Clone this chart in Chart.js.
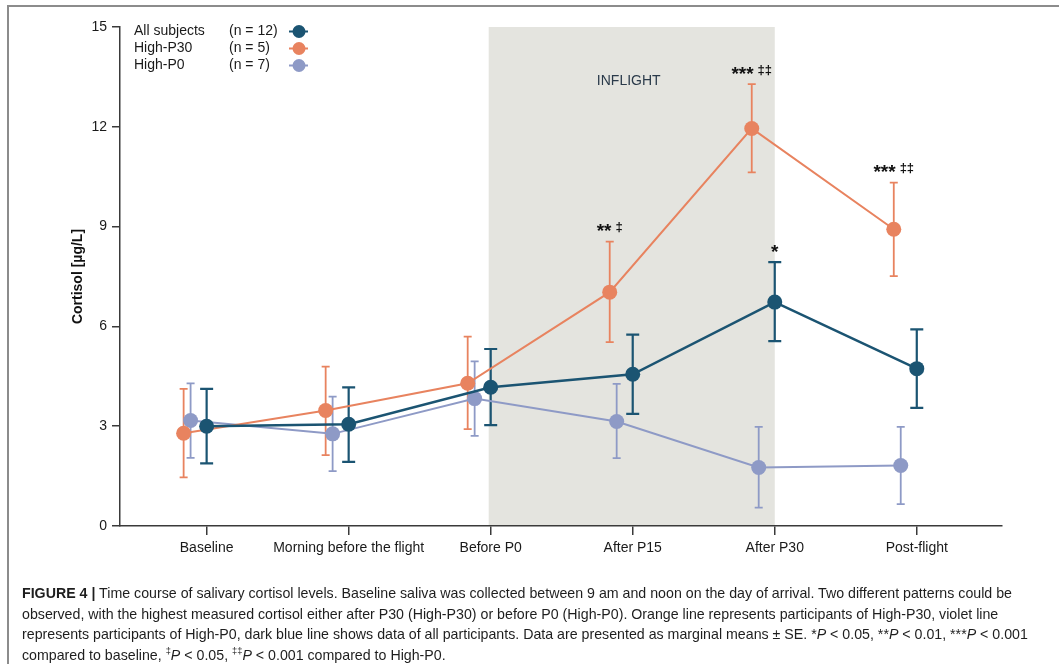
<!DOCTYPE html>
<html>
<head>
<meta charset="utf-8">
<script src="https://cdn.jsdelivr.net/npm/chart.js@4.4.1/dist/chart.umd.min.js"></script>
<style>
  html, body { margin: 0; padding: 0; background: #fff; }
  #wrap { position: relative; width: 1059px; height: 664px; overflow: hidden; }
  #frame { position: absolute; left: 7px; top: 5px; width: 1100px; height: 700px;
           border-left: 2px solid #8c8c8c; border-top: 2px solid #8c8c8c; }
  #caption { position: absolute; left: 22px; top: 583px; font: 14.5px "Liberation Sans", Arial, sans-serif;
             color: #1e1e1e; line-height: 20.5px; }
  #caption .cl { white-space: nowrap; transform-origin: 0 50%; display: inline-block; }
  #caption sup { font-size: 9.5px; line-height: 0; }
</style>
</head>
<body>
<div id="wrap">
  <div id="frame"></div>
  <canvas id="myChart" width="1059" height="664" style="position:absolute;left:0;top:0"></canvas>
  <div id="caption">
    <div class="cl"><b>FIGURE 4</b> <b>|</b> Time course of salivary cortisol levels. Baseline saliva was collected between 9 am and noon on the day of arrival. Two different patterns could be</div><br>
    <div class="cl">observed, with the highest measured cortisol either after P30 (High-P30) or before P0 (High-P0). Orange line represents participants of High-P30, violet line</div><br>
    <div class="cl">represents participants of High-P0, dark blue line shows data of all participants. Data are presented as marginal means ± SE. *<i>P</i> &lt; 0.05, **<i>P</i> &lt; 0.01, ***<i>P</i> &lt; 0.001</div><br>
    <div class="cl">compared to baseline, <sup>‡</sup><i>P</i> &lt; 0.05, <sup>‡‡</sup><i>P</i> &lt; 0.001 compared to High-P0.</div>
  </div>
</div>
<script>
/* Salivary cortisol time course */

const categories = ['Baseline', 'Morning before the flight', 'Before P0', 'After P15', 'After P30', 'Post-flight'];

// All subjects (n = 12)
const allMean = [3.0, 3.06, 4.17, 4.56, 6.73, 4.73];
const allLow  = [1.88, 1.93, 3.03, 3.37, 5.56, 3.55];
const allHigh = [4.12, 4.17, 5.32, 5.75, 7.93, 5.91];

// High-P30 (n = 5)
const p30Mean = [2.79, 3.47, 4.29, 7.03, 11.95, 8.92];
const p30Low  = [1.46, 2.13, 2.91, 5.53, 10.63, 7.51];
const p30High = [4.12, 4.79, 5.69, 8.55, 13.28, 10.32];

// High-P0 (n = 7)
const p0Mean = [3.17, 2.77, 3.83, 3.14, 1.76, 1.82];
const p0Low  = [2.05, 1.65, 2.71, 2.04, 0.55, 0.66];
const p0High = [4.29, 3.89, 4.95, 4.27, 2.98, 2.98];

const yTicks = [0, 3, 6, 9, 12, 15];
const inflightFrom = 2;   // Before P0
const inflightTo = 4;     // After P30

// significance marks: [series, category index, stars, daggers]
const marks = [
  ['p30', 3, '**', '‡'],
  ['p30', 4, '***', '‡‡'],
  ['p30', 5, '***', '‡‡'],
  ['all', 4, '*', ''],
];

const BLUE = '#1b5472';
const ORANGE = '#e8835f';
const VIOLET = '#8e9ac6';
const FONT = '"Liberation Sans", Arial, Helvetica, sans-serif';

const series = {
  all: { label: 'All subjects', n: '(n = 12)', mean: allMean, low: allLow, high: allHigh, color: BLUE, shift: 0, cap: 6.5, lw: 2.2 },
  p30: { label: 'High-P30', n: '(n = 5)', mean: p30Mean, low: p30Low, high: p30High, color: ORANGE, shift: -0.162, cap: 4, lw: 1.8 },
  p0:  { label: 'High-P0', n: '(n = 7)', mean: p0Mean, low: p0Low, high: p0High, color: VIOLET, shift: -0.113, cap: 4, lw: 1.8 },
};
const order = ['all', 'p30', 'p0'];

function pts(s) {
  return s.mean.map((v, i) => ({ x: i + s.shift, y: v }));
}

const overlay = {
  id: 'overlay',
  beforeDraw(chart) {
    const { ctx, scales: { x, y } } = chart;
    const x0 = x.getPixelForValue(inflightFrom) - 2, x1 = x.getPixelForValue(inflightTo);
    const yt = y.getPixelForValue(15), yb = y.getPixelForValue(0);
    ctx.save();
    ctx.fillStyle = '#e4e4df';
    ctx.fillRect(x0, yt, x1 - x0, yb - yt);
    ctx.fillStyle = '#2a3a4a';
    ctx.font = '14px ' + FONT;
    ctx.textAlign = 'center';
    ctx.textBaseline = 'middle';
    ctx.fillText('INFLIGHT', (x0 + x1) / 2 - 3, yt + 54);
    ctx.restore();
  },
  beforeDatasetsDraw(chart) {
    const { ctx, scales: { x, y } } = chart;
    ctx.save();
    order.slice().reverse().forEach(k => {
      const s = series[k];
      ctx.strokeStyle = s.color;
      ctx.lineWidth = s.lw;
      s.mean.forEach((v, i) => {
        const px = x.getPixelForValue(i + s.shift);
        const yl = y.getPixelForValue(s.low[i]), yh = y.getPixelForValue(s.high[i]);
        ctx.beginPath();
        ctx.moveTo(px, yl); ctx.lineTo(px, yh);
        ctx.moveTo(px - s.cap, yl); ctx.lineTo(px + s.cap, yl);
        ctx.moveTo(px - s.cap, yh); ctx.lineTo(px + s.cap, yh);
        ctx.stroke();
      });
    });
    ctx.restore();
  },
  afterDatasetsDraw(chart) {
    const { ctx, chartArea, scales: { x, y } } = chart;
    ctx.save();
    // significance marks
    ctx.fillStyle = '#111';
    marks.forEach(([k, i, stars, dag]) => {
      const s = series[k];
      const px = x.getPixelForValue(i + s.shift);
      const cy = y.getPixelForValue(s.high[i]) - 15;
      ctx.font = 'bold 19px ' + FONT;
      const wa = ctx.measureText(stars).width;
      ctx.font = 'bold 13px ' + FONT;
      const wd = dag ? ctx.measureText(dag).width : 0;
      const gap = dag ? 4 : 0;
      const left = px - (wa + gap + wd) / 2;
      ctx.textAlign = 'left';
      ctx.textBaseline = 'alphabetic';
      ctx.font = 'bold 19px ' + FONT;
      ctx.fillText(stars, left, cy + 10.5);
      if (dag) {
        ctx.font = 'bold 13px ' + FONT;
        ctx.fillText(dag, left + wa + gap, cy + 4.5);
      }
    });
    // legend
    ctx.font = '14px ' + FONT;
    ctx.textBaseline = 'middle';
    order.forEach((k, r) => {
      const s = series[k];
      const ly = chartArea.top + 4.5 + r * 17;
      const lx = chartArea.left + 14;
      ctx.fillStyle = '#1a1a1a';
      ctx.textAlign = 'left';
      ctx.fillText(s.label, lx, ly);
      ctx.fillText(s.n, lx + 95, ly);
      ctx.strokeStyle = s.color;
      ctx.lineWidth = 2;
      ctx.beginPath();
      ctx.moveTo(lx + 155, ly); ctx.lineTo(lx + 174, ly);
      ctx.stroke();
      ctx.fillStyle = s.color;
      ctx.beginPath();
      ctx.arc(lx + 165, ly, 6.5, 0, Math.PI * 2);
      ctx.fill();
    });
    // y axis title
    ctx.fillStyle = '#111';
    ctx.font = 'bold 14px ' + FONT;
    ctx.textAlign = 'center';
    ctx.translate(chartArea.left - 42, (chartArea.top + chartArea.bottom) / 2);
    ctx.rotate(-Math.PI / 2);
    ctx.fillText('Cortisol [µg/L]', 0, 0);
    ctx.restore();
  }
};

function init() {
  const datasets = order.map(k => {
    const s = series[k];
    return {
      label: s.label,
      data: pts(s),
      borderColor: s.color,
      backgroundColor: s.color,
      borderWidth: k === 'all' ? 2.5 : 2,
      pointRadius: 7.5,
      pointBorderWidth: 0,
      pointHoverRadius: 7.5,
      tension: 0,
    };
  });

  new Chart(document.getElementById('myChart'), {
    type: 'line',
    data: { datasets: datasets },
    options: {
      responsive: false,
      animation: false,
      layout: { padding: { left: 0, right: 57, top: 27, bottom: 0 } },
      plugins: { legend: { display: false }, tooltip: { enabled: false } },
      scales: {
        x: {
          type: 'linear',
          min: -0.61,
          max: 5.6,
          afterBuildTicks: scale => { scale.ticks = categories.map((c, i) => ({ value: i })); },
          afterFit: scale => { scale.height = 138; },
          ticks: {
            callback: v => categories[v],
            color: '#1a1a1a',
            font: { size: 14, family: FONT },
            padding: 5,
            maxRotation: 0,
            autoSkip: false,
          },
          grid: { drawOnChartArea: false, drawTicks: true, tickLength: 9, color: '#3a3a3a', lineWidth: 1.5 },
          border: { display: true, color: '#3a3a3a', width: 1.5 },
        },
        y: {
          min: 0,
          max: 15,
          afterBuildTicks: scale => { scale.ticks = yTicks.map(v => ({ value: v })); },
          afterFit: scale => { scale.width = 120; },
          ticks: {
            color: '#1a1a1a',
            font: { size: 14, family: FONT },
            padding: 5,
          },
          grid: { drawOnChartArea: false, drawTicks: true, tickLength: 8, color: '#3a3a3a', lineWidth: 1.5 },
          border: { display: true, color: '#3a3a3a', width: 1.5 },
        },
      },
    },
    plugins: [overlay],
  });

  // squeeze caption to the width of the printed (condensed) caption
  const lines = document.querySelectorAll('#caption .cl');
  const k = 990 / lines[0].getBoundingClientRect().width;
  lines.forEach(el => { el.style.transform = 'scaleX(' + k + ')'; });
}

document.addEventListener('DOMContentLoaded', init, false);
</script>
</body>
</html>
